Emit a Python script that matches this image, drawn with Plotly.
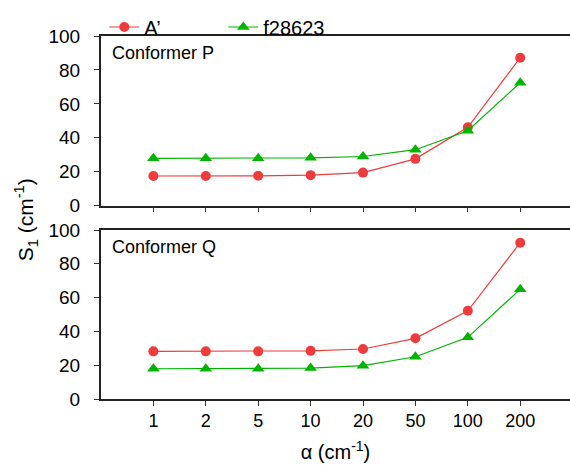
import plotly.graph_objects as go
from plotly.subplots import make_subplots

alpha_labels = ["1", "2", "5", "10", "20", "50", "100", "200"]

p_A = [17.5, 17.5, 17.6, 18.0, 19.5, 27.6, 46.2, 87.2]
p_f = [27.9, 27.9, 28.0, 28.2, 29.0, 33.0, 44.2, 72.5]

q_A = [28.2, 28.2, 28.2, 28.5, 29.6, 35.9, 52.2, 92.5]
q_f = [17.9, 17.9, 17.9, 18.3, 19.7, 25.0, 36.5, 64.9]

series_names = ["A\u2019", "f28623"]
RED = "#ef3b3b"
GREEN = "#00b400"
FONT = "Liberation Sans, Arial, Helvetica, sans-serif"

W, H = 570, 465
ML, MR, MT, MB = 100.7, 0, 36, 66
ph = H - MT - MB

fig = make_subplots(rows=2, cols=1, shared_xaxes=False, vertical_spacing=0)

def add(row, a, f, show):
    fig.add_trace(go.Scatter(x=alpha_labels, y=a, mode="lines+markers", name=series_names[0],
                             line=dict(color=RED, width=1.2),
                             marker=dict(symbol="circle", size=10, color=RED),
                             showlegend=show, legendgroup="a"), row=row, col=1)
    fig.add_trace(go.Scatter(x=alpha_labels, y=f, mode="lines+markers", name=series_names[1],
                             line=dict(color=GREEN, width=1.2),
                             marker=dict(symbol="triangle-up", size=11, color=GREEN),
                             showlegend=show, legendgroup="f"), row=row, col=1)

add(1, p_A, p_f, True)
add(2, q_A, q_f, False)

top_dom = [(H - 205.7 - MB) / ph, 1.0]
bot_dom = [0.0, (H - 230 - MB) / ph]

axcommon = dict(type="category", range=[-1, 7.95], showline=True, linecolor="#222", linewidth=1.5,
                mirror=True, ticks="outside", ticklen=5, tickwidth=1, tickcolor="#333",
                showgrid=False, zeroline=False, tickfont=dict(family=FONT, size=18, color="#000"))
ycommon = dict(range=[0, 100], tickvals=[0, 20, 40, 60, 80, 100], showline=True, linecolor="#222",
               linewidth=2, ticks="outside", ticklen=5, tickwidth=1, tickcolor="#333",
               showgrid=False, zeroline=False, tickfont=dict(family=FONT, size=19, color="#000"),
               ticklabelstandoff=10)

fig.update_layout(
    xaxis=dict(axcommon, showticklabels=False, categoryorder="array", categoryarray=alpha_labels),
    xaxis2=dict(axcommon, showticklabels=True, categoryorder="array", categoryarray=alpha_labels,
                ticklabelstandoff=0,
                title=dict(text="\u03b1 (cm<sup>-1</sup>)", font=dict(family=FONT, size=20, color="#000"),
                           standoff=15)),
    yaxis=dict(ycommon, domain=top_dom),
    yaxis2=dict(ycommon, domain=bot_dom),
)

fig.add_annotation(text="Conformer P", xref="paper", yref="y domain", x=9.5 / (W - ML - MR), y=0.90,
                   xanchor="left", yanchor="middle", showarrow=False,
                   font=dict(family=FONT, size=18, color="#000"))
fig.add_annotation(text="Conformer Q", xref="paper", yref="y2 domain", x=9.5 / (W - ML - MR), y=0.90,
                   xanchor="left", yanchor="middle", showarrow=False,
                   font=dict(family=FONT, size=18, color="#000"))
fig.add_annotation(text="S<sub>1</sub> (cm<sup>-1</sup>)", xref="paper", yref="paper",
                   x=-(ML - 25) / (W - ML - MR), y=(H - 220 - MB) / ph, textangle=-90,
                   xanchor="center", yanchor="middle", showarrow=False,
                   font=dict(family=FONT, size=21, color="#000"))

fig.update_layout(
    width=W, height=H,
    margin=dict(l=ML, r=MR, t=MT, b=MB, pad=0),
    paper_bgcolor="white", plot_bgcolor="white",
    font=dict(family=FONT, size=18, color="#000"),
    legend=dict(orientation="h", x=(104 - ML) / (W - ML - MR), xanchor="left",
                y=1 + 9 / ph, yanchor="middle", entrywidth=74, entrywidthmode="pixels",
                font=dict(family=FONT, size=20, color="#000"), bgcolor="rgba(0,0,0,0)",
                itemclick=False, tracegroupgap=0),
)

fig.write_html("out.html")
